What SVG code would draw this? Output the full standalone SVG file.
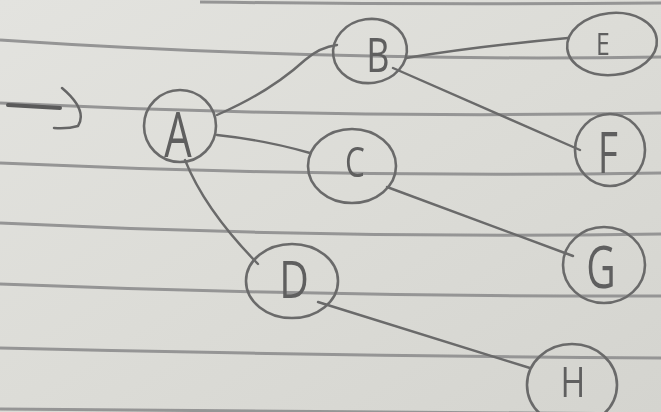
<svg xmlns="http://www.w3.org/2000/svg" width="661" height="412" viewBox="0 0 661 412">
  <defs>
    <linearGradient id="paper" x1="0" y1="0" x2="1" y2="1">
      <stop offset="0" stop-color="#e3e3df"/>
      <stop offset="0.5" stop-color="#dcdcd7"/>
      <stop offset="1" stop-color="#d4d4cf"/>
    </linearGradient>
    <filter id="soft" x="-5%" y="-5%" width="110%" height="110%">
      <feGaussianBlur stdDeviation="0.7"/>
    </filter>
  </defs>
  <style>
    .rule { fill: none; stroke: #959595; stroke-width: 3; }
    .ring { fill: none; stroke: #6b6b6b; stroke-width: 2.6; }
    .edge { fill: none; stroke: #6a6a6a; stroke-width: 2.4; stroke-linecap: round; }
    .lbl { font-family: "Open Sans", "Liberation Sans", sans-serif; font-weight: 400; fill: #5e5e5e; text-anchor: middle; }
  </style>

  <!-- paper -->
  <rect width="661" height="412" fill="url(#paper)"/>

  <!-- ruled lines -->
  <g id="rules" filter="url(#soft)">
    <path class="rule" d="M200,2 Q430,5 661,3"/>
    <path class="rule" d="M0,40 Q330,62 661,57"/>
    <path class="rule" d="M0,103 Q330,119 661,113"/>
    <path class="rule" d="M0,163 Q330,178 661,173"/>
    <path class="rule" d="M0,223 Q330,239 661,234"/>
    <path class="rule" d="M0,284 Q330,297 661,296"/>
    <path class="rule" d="M0,348 Q330,356 661,358"/>
    <path class="rule" d="M0,409 Q330,412 661,414"/>
  </g>

  <!-- start arrow -->
  <g id="start" filter="url(#soft)">
    <path d="M8,105 L60,108" fill="none" stroke="#5a5a5a" stroke-width="4" stroke-linecap="round"/>
    <path d="M62,88 Q88,110 78,126 Q68,129 54,128" fill="none" stroke="#666" stroke-width="2.5" stroke-linecap="round"/>
  </g>

  <!-- connectors -->
  <g id="edges" filter="url(#soft)">
    <path class="edge" d="M217,115 Q270,92 305,60 Q320,47 337,45"/>
    <path class="edge" d="M217,135 Q265,140 310,153"/>
    <path class="edge" d="M185,160 Q205,210 258,264"/>
    <path class="edge" d="M406,58 Q480,46 568,38" stroke-width="3.4"/>
    <path class="edge" d="M393,68 L580,150"/>
    <path class="edge" d="M387,187 L573,256"/>
    <path class="edge" d="M318,302 L530,368"/>
  </g>

  <!-- nodes -->
  <g filter="url(#soft)">
    <g id="node-A">
      <ellipse class="ring" cx="180" cy="126" rx="36" ry="36"/>
      <text class="lbl" x="178" y="157" font-size="62" transform="translate(178 0) scale(0.7 1) translate(-178 0)">A</text>
    </g>
    <g id="node-B">
      <ellipse class="ring" cx="370" cy="51" rx="37" ry="32" transform="rotate(-8 370 51)"/>
      <text class="lbl" x="378" y="72" font-size="48" transform="translate(378 0) scale(0.75 1) translate(-378 0)">B</text>
    </g>
    <g id="node-C">
      <ellipse class="ring" cx="352" cy="166" rx="44" ry="37"/>
      <text class="lbl" x="355" y="177" font-size="42" transform="translate(355 0) scale(0.75 1) translate(-355 0)">C</text>
    </g>
    <g id="node-D">
      <ellipse class="ring" cx="292" cy="281" rx="46" ry="37"/>
      <text class="lbl" x="294" y="298" font-size="51" transform="translate(294 0) scale(0.8 1) translate(-294 0)">D</text>
    </g>
    <g id="node-E">
      <ellipse class="ring" cx="612" cy="44" rx="45" ry="31" transform="rotate(-6 612 44)"/>
      <text class="lbl" x="603" y="55" font-size="31" transform="translate(603 0) scale(0.8 1) translate(-603 0)">E</text>
    </g>
    <g id="node-F">
      <ellipse class="ring" cx="610" cy="150" rx="35" ry="36"/>
      <text class="lbl" x="608" y="173" font-size="56" transform="translate(608 0) scale(0.7 1) translate(-608 0)">F</text>
    </g>
    <g id="node-G">
      <ellipse class="ring" cx="604" cy="265" rx="41" ry="38"/>
      <text class="lbl" x="601" y="288" font-size="58" transform="translate(601 0) scale(0.7 1) translate(-601 0)">G</text>
    </g>
    <g id="node-H">
      <ellipse class="ring" cx="572" cy="385" rx="45" ry="41"/>
      <text class="lbl" x="573" y="397" font-size="42" transform="translate(573 0) scale(0.8 1) translate(-573 0)">H</text>
    </g>
  </g>
</svg>
